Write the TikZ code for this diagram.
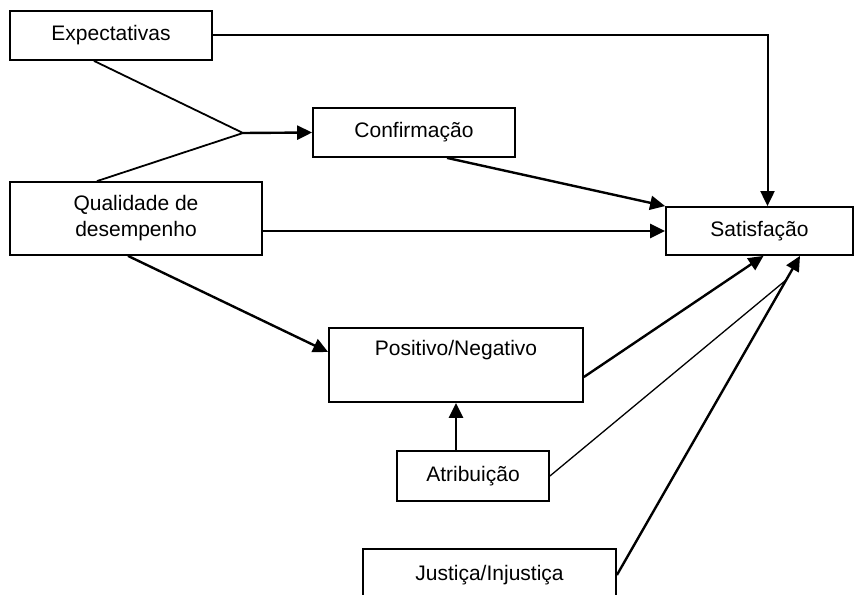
\documentclass[tikz,border=0pt]{standalone}
\usepackage{fontspec}
\setmainfont{Liberation Sans}
\usetikzlibrary{arrows.meta,calc}
\begin{document}
\begin{tikzpicture}[x=1pt,y=-1pt,
  box/.style={draw,line width=1.8pt,rectangle,inner sep=0pt,align=center,
    font=\fontsize{21}{26}\selectfont},
  conn/.style={line width=2.4pt},
  thinconn/.style={line width=1.3pt},
  arr/.style={-{Triangle[length=15pt,width=14pt]}}]
\useasboundingbox (0,0) rectangle (858,594);
\node[box,minimum width=202pt,minimum height=49pt] (exp) at (111,35.5) {Expectativas};
\node[box,minimum width=202pt,minimum height=49pt] (conf) at (414,132.5) {Confirmação};
\node[box,minimum width=252pt,minimum height=73pt] (qual) at (136,218.5) {Qualidade de\\desempenho};
\node[box,minimum width=187pt,minimum height=48pt] (sat) at (759.5,231) {Satisfação};
\node[box,minimum width=254pt,minimum height=74pt] (pos) at (456,365) {Positivo/Negativo\\\strut};
\node[box,minimum width=152pt,minimum height=50pt] (atr) at (473,476) {Atribuição};
\node[box,minimum width=253pt,minimum height=52pt] (jus) at (489.5,575) {Justiça/Injustiça};
\coordinate (apex) at (243,133);
% Expectativas -> Satisfação
\draw[conn,line width=2pt,arr] (exp.east) -| ([xshift=8pt]sat.north);
% Expectativas + Qualidade -> Confirmação
\draw[thinconn,line width=1.8pt] ([xshift=-17pt]exp.south) -- (apex) -- ([xshift=-39pt]qual.north);
\draw[conn,arr] (apex) -- (conf.west);
% Confirmação -> Satisfação
\draw[conn,arr] ([xshift=33pt]conf.south) -- (sat.north west);
% Qualidade -> Satisfação
\draw[conn,arr] (qual.east |- sat.west) -- (sat.west);
% Qualidade -> Positivo
\draw[conn,arr] ([xshift=-8pt]qual.south) -- ([yshift=13pt]pos.west);
% Atribuição -> Positivo
\draw[conn,arr] (pos.south |- atr.north) -- (pos.south);
% Positivo -> Satisfação
\draw[conn,arr] ([yshift=-12pt]pos.east) -- ([xshift=4pt]sat.south);
% Justiça -> Satisfação
\coordinate (satj) at ([xshift=40.5pt]sat.south);
\draw[conn,arr] (jus.east) -- (satj);
% Atribuição -> (joins Justiça arrow)
\coordinate (join) at ($(jus.east)!0.925!(satj)$);
\draw[thinconn] (atr.east) -- (join);
\end{tikzpicture}
\end{document}
